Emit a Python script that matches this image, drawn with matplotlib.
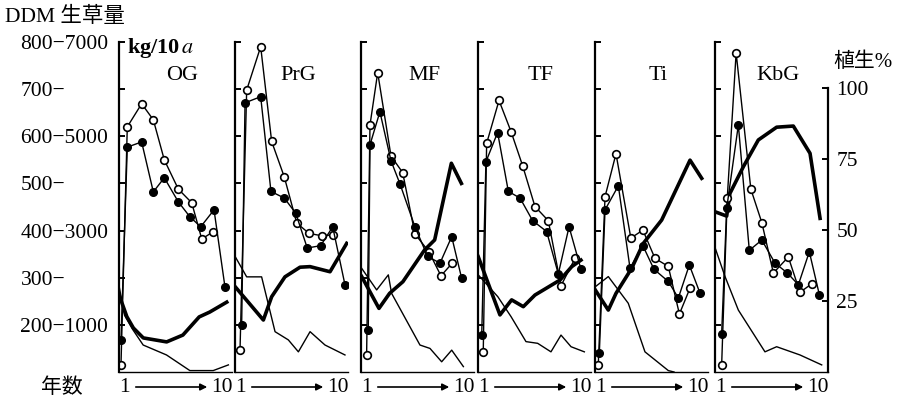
import matplotlib.pyplot as plt

plt.rcParams['font.family'] = ['Liberation Serif', 'Noto Sans CJK JP']
plt.rcParams['mathtext.fontset'] = 'stix'

# DDM / yield (left axis, DDM units) and vegetation % (right axis), x in years
og_open_yr = [1.0, 1.54, 2.77, 3.77, 4.71, 5.91, 7.06, 7.92, 8.86]
og_open = [115, 620, 669, 635, 550, 488, 459, 382, 397]
og_fill_yr = [1.0, 1.54, 2.77, 3.77, 4.71, 5.91, 6.91, 7.83, 8.97, 9.91]
og_fill = [168, 577, 588, 482, 512, 461, 429, 408, 444, 280]
og_thick_yr = [0.85, 1.5, 2.06, 2.91, 4.91, 6.3, 7.7, 8.6, 10.06]
og_thick = [27, 19.5, 15.5, 12, 10.6, 13, 19.4, 21.1, 24.6]
og_thin_yr = [0.85, 1.3, 2.0, 2.9, 4.9, 6.9, 8.9, 10.2]
og_thin = [30, 20, 15, 9.5, 6, 0.5, 0.5, 2.5]

prg_open_yr = [1.26, 1.83, 3.03, 3.97, 5.05, 6.12, 7.17, 8.26, 9.25]
prg_open = [147, 698, 790, 589, 514, 416, 394, 389, 391]
prg_fill_yr = [1.4, 1.69, 3.03, 3.91, 5.05, 6.03, 7.02, 8.17, 9.2, 10.25]
prg_fill = [200, 671, 684, 483, 469, 437, 363, 368, 408, 285]
prg_thick_yr = [0.85, 3.26, 3.97, 5.11, 6.4, 7.26, 8.97, 10.4]
prg_thick = [30, 18.3, 26.5, 33.5, 36.9, 37.1, 35.3, 45.3]
prg_thin_yr = [0.85, 1.83, 3.11, 4.26, 5.4, 6.26, 7.26, 8.54, 10.25]
prg_thin = [40.6, 33.5, 33.5, 14.2, 11.3, 7.1, 14.2, 9.5, 6]

mf_open_yr = [1.31, 1.60, 2.26, 3.40, 4.40, 5.45, 6.65, 7.68, 8.65]
mf_open = [136, 624, 735, 558, 523, 393, 355, 304, 331]
mf_fill_yr = [1.45, 1.60, 2.45, 3.40, 4.17, 5.45, 6.54, 7.60, 8.60, 9.45]
mf_fill = [189, 582, 652, 548, 499, 408, 345, 331, 387, 299]
mf_thick_yr = [0.89, 2.37, 3.28, 4.42, 6.28, 7.14, 8.57, 9.43]
mf_thick = [33.6, 22.4, 27.7, 31.8, 43, 46.5, 73.5, 66.4]
mf_thin_yr = [0.89, 2.17, 3.17, 3.45, 5.88, 6.74, 7.74, 8.60, 9.60]
mf_thin = [36.5, 28.9, 34.2, 27.7, 9.5, 8.3, 3.6, 7.7, 1.9]

tf_open_yr = [1.28, 1.57, 2.63, 3.66, 4.66, 5.71, 6.85, 7.94, 9.14]
tf_open = [143, 585, 676, 610, 537, 451, 421, 283, 341]
tf_fill_yr = [1.15, 1.51, 2.51, 3.43, 4.43, 5.51, 6.71, 7.71, 8.63, 9.65]
tf_fill = [179, 546, 608, 483, 469, 421, 398, 308, 408, 318]
tf_thick_yr = [0.85, 2.71, 3.71, 4.71, 5.71, 7.86, 8.86, 9.65]
tf_thick = [40.6, 20.1, 25.4, 23, 27.1, 32.4, 37.1, 39.4]
tf_thin_yr = [0.85, 2.53, 3.66, 4.94, 5.94, 7.08, 7.94, 8.8, 9.94]
tf_thin = [34.2, 26.5, 19.5, 10.7, 10.1, 7.1, 13, 8.9, 7.1]

ti_open_yr = [1.11, 1.69, 2.63, 3.9, 4.93, 5.97, 7.11, 8.06, 8.97]
ti_open = [115, 472, 563, 384, 401, 341, 324, 223, 278]
ti_fill_yr = [1.2, 1.69, 2.83, 3.83, 4.93, 5.88, 7.11, 7.97, 8.91, 9.83]
ti_fill = [140, 444, 495, 320, 368, 318, 292, 257, 327, 267]
ti_thick_yr = [0.85, 1.97, 2.63, 3.97, 4.97, 6.54, 8.97, 9.97]
ti_thick = [28.9, 21.8, 27.7, 36.5, 45.3, 53.5, 74.6, 68.2]
ti_thin_yr = [0.85, 1.97, 3.68, 5.11, 7.11, 7.6]
ti_thin = [30, 33.6, 24.2, 7.1, 0.5, 0]

kbg_open_yr = [1.4, 1.88, 2.64, 3.9, 4.84, 5.83, 7.11, 8.11, 9.11]
kbg_open = [115, 469, 777, 488, 417, 310, 344, 269, 287]
kbg_fill_yr = [1.4, 1.83, 2.83, 3.77, 4.84, 5.97, 7.03, 7.97, 8.91, 9.77]
kbg_fill = [181, 447, 624, 358, 380, 331, 310, 285, 355, 264]
kbg_thick_yr = [0.85, 1.83, 2.11, 3.26, 4.54, 6.11, 7.54, 8.97, 9.83]
kbg_thick = [56.4, 54.9, 62.9, 72.3, 81.7, 86.2, 86.6, 77, 54.1]
kbg_thin_yr = [0.85, 1.69, 2.83, 5.11, 6.11, 8.11, 9.97]
kbg_thin = [43.6, 33.6, 21.8, 7.1, 8.9, 6, 2.5]

ddm_ticks = [200, 300, 400, 500, 600, 700, 800]
ddm_labels = ['200\u22121000', '300\u2212', '400\u22123000', '500\u2212',
              '600\u22125000', '700\u2212', '800\u22127000']
veg_ticks = [25, 50, 75, 100]

panels = [
    ('OG', 119, og_open_yr, og_open, og_fill_yr, og_fill, og_thick_yr, og_thick, og_thin_yr, og_thin),
    ('PrG', 235, prg_open_yr, prg_open, prg_fill_yr, prg_fill, prg_thick_yr, prg_thick, prg_thin_yr, prg_thin),
    ('MF', 361, mf_open_yr, mf_open, mf_fill_yr, mf_fill, mf_thick_yr, mf_thick, mf_thin_yr, mf_thin),
    ('TF', 478, tf_open_yr, tf_open, tf_fill_yr, tf_fill, tf_thick_yr, tf_thick, tf_thin_yr, tf_thin),
    ('Ti', 595, ti_open_yr, ti_open, ti_fill_yr, ti_fill, ti_thick_yr, ti_thick, ti_thin_yr, ti_thin),
    ('KbG', 715, kbg_open_yr, kbg_open, kbg_fill_yr, kbg_fill, kbg_thick_yr, kbg_thick, kbg_thin_yr, kbg_thin),
]

W, H = 900, 401
fig = plt.figure(figsize=(W / 100, H / 100), dpi=100)


def fig_axes(left, top, width, height):
    return fig.add_axes([left / W, 1 - (top + height) / H, width / W, height / H])


def fy(y):
    return 1 - y / H


for i, (name, L, ox, oy, fx, fyv, tx, ty, nx, ny) in enumerate(panels):
    ax = fig_axes(L, 42, 113, 330)
    ax2 = ax.twinx()
    ax.set_zorder(ax2.get_zorder() + 1)
    ax.patch.set_visible(False)

    ax.set_xlim(0.83, 10.51)
    ax.set_ylim(100, 800)
    ax2.set_ylim(0, 330 / 2.84)

    ax2.plot(tx, ty, color='k', lw=2.6, solid_joinstyle='round')
    ax2.plot(nx, ny, color='k', lw=1.0)
    ax.plot(ox, oy, '-o', color='k', lw=1.0, ms=5.5, mfc='white', mec='k', mew=1.2)
    ax.plot(fx, fyv, '-o', color='k', lw=1.0, ms=5.5)

    for s in ['top', 'right']:
        ax.spines[s].set_visible(False)
    ax.spines['left'].set_linewidth(1.6)
    ax.spines['bottom'].set_linewidth(1.0)
    ax.set_xticks([])
    ax.set_yticks(ddm_ticks)
    ax.tick_params(axis='y', direction='in', length=4, width=1.4)
    if i == 0:
        ax.set_yticklabels(ddm_labels, fontsize=15.5)
        ax.tick_params(axis='y', pad=71)
        for lab in ax.get_yticklabels():
            lab.set_horizontalalignment('left')
    else:
        ax.set_yticklabels([])

    for s in ['top', 'left', 'bottom']:
        ax2.spines[s].set_visible(False)
    if name == 'KbG':
        ax2.spines['right'].set_linewidth(1.6)
        ax2.spines['right'].set_bounds(0, 100)
        ax2.set_yticks(veg_ticks)
        ax2.tick_params(axis='y', direction='in', length=4, width=1.4, pad=6, labelsize=15.5)
    else:
        ax2.spines['right'].set_visible(False)
        ax2.set_yticks([])

    fig.text((L + 63) / W, fy(75), name, fontsize=16, ha='center', va='center')

    # year axis: 1 -> 10
    fig.text((L + 5) / W, fy(388), '1', fontsize=15.5, ha='center', va='center')
    fig.text((L + 92) / W, fy(388), '10', fontsize=15.5, ha='left', va='center')
    ax.annotate('', xy=(L + 91, H - 387), xytext=(L + 14, H - 387),
                xycoords='figure pixels', textcoords='figure pixels',
                arrowprops=dict(arrowstyle='-|>', lw=1.2, color='k', mutation_scale=10))

fig.text(5 / W, fy(17), 'DDM 生草量', fontsize=15.5, ha='left', va='center')
fig.text(127 / W, fy(48), r'kg/10$\,\mathit{a}$', fontsize=16, fontweight='bold', ha='left', va='center')
fig.text(863 / W, fy(62), '植生%', fontsize=15, ha='center', va='center')
fig.text(62 / W, fy(388), '年数', fontsize=15, ha='center', va='center')

fig.savefig('out.png', dpi=100)
